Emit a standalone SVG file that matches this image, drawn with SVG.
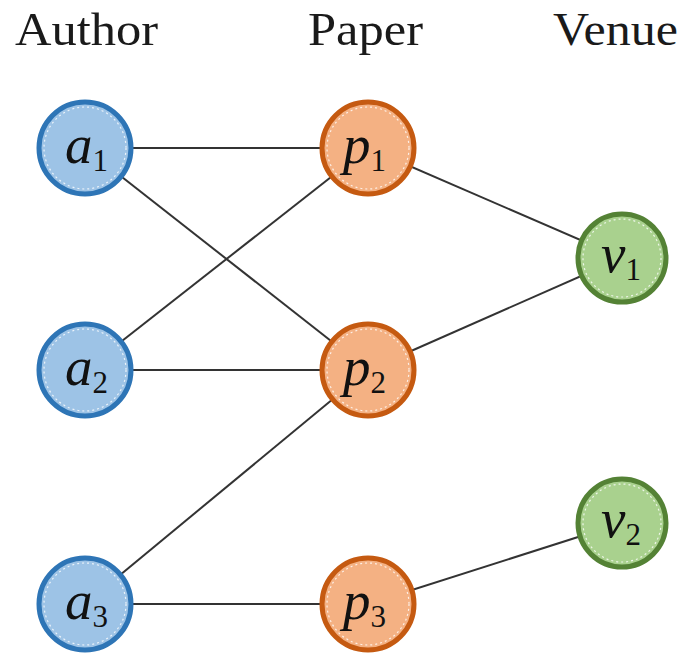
<svg xmlns="http://www.w3.org/2000/svg" width="685" height="655" viewBox="0 0 685 655">
  <style>
    .hdr { font-family: 'Liberation Serif', 'Times New Roman', 'DejaVu Serif', serif; font-size: 46px; fill: #1a1a1a; }
    .lbl { font-family: 'Liberation Serif', 'Times New Roman', 'DejaVu Serif', serif; font-size: 55px; font-style: italic; fill: #111; }
    .sub { font-size: 31px; font-style: normal; }
    .edge { stroke: #333; stroke-width: 2; fill: none; }
    .ring { fill: none; stroke: #fff; stroke-width: 1.2; stroke-dasharray: 2 3; opacity: 0.8; }
    .author { fill: #9DC3E6; stroke: #2E75B6; stroke-width: 5; }
    .paper { fill: #F4B183; stroke: #C55A11; stroke-width: 5; }
    .venue { fill: #A9D18E; stroke: #548235; stroke-width: 5; }
  </style>
  <rect width="685" height="655" fill="#fff"/>

  <!-- column headings -->
  <text class="hdr" x="15" y="45" textLength="143" lengthAdjust="spacingAndGlyphs">Author</text>
  <text class="hdr" x="308" y="45" textLength="115" lengthAdjust="spacingAndGlyphs">Paper</text>
  <text class="hdr" x="553" y="45" textLength="125" lengthAdjust="spacingAndGlyphs">Venue</text>

  <!-- edges between authors, papers and venues -->
  <g id="edges">
    <line class="edge" x1="85" y1="148" x2="368" y2="148"/>
    <line class="edge" x1="85" y1="148" x2="368" y2="370"/>
    <line class="edge" x1="85" y1="370" x2="368" y2="148"/>
    <line class="edge" x1="85" y1="370" x2="368" y2="370"/>
    <line class="edge" x1="85" y1="604" x2="368" y2="370"/>
    <line class="edge" x1="85" y1="604" x2="368" y2="604"/>
    <line class="edge" x1="368" y1="148" x2="622" y2="258"/>
    <line class="edge" x1="368" y1="370" x2="622" y2="258"/>
    <line class="edge" x1="368" y1="604" x2="622" y2="523"/>
  </g>

  <g id="a1">
    <circle class="author" cx="85" cy="148" r="46"/>
    <circle class="ring" cx="85" cy="148" r="41"/>
    <text class="lbl" x="65" y="163">a<tspan class="sub" dy="8">1</tspan></text>
  </g>
  <g id="a2">
    <circle class="author" cx="85" cy="370" r="46"/>
    <circle class="ring" cx="85" cy="370" r="41"/>
    <text class="lbl" x="65" y="385">a<tspan class="sub" dy="8">2</tspan></text>
  </g>
  <g id="a3">
    <circle class="author" cx="85" cy="604" r="46"/>
    <circle class="ring" cx="85" cy="604" r="41"/>
    <text class="lbl" x="65" y="619">a<tspan class="sub" dy="8">3</tspan></text>
  </g>

  <g id="p1">
    <circle class="paper" cx="368" cy="148" r="46"/>
    <circle class="ring" cx="368" cy="148" r="41"/>
    <text class="lbl" x="343" y="163">p<tspan class="sub" dy="8">1</tspan></text>
  </g>
  <g id="p2">
    <circle class="paper" cx="368" cy="370" r="46"/>
    <circle class="ring" cx="368" cy="370" r="41"/>
    <text class="lbl" x="343" y="385">p<tspan class="sub" dy="8">2</tspan></text>
  </g>
  <g id="p3">
    <circle class="paper" cx="368" cy="604" r="46"/>
    <circle class="ring" cx="368" cy="604" r="41"/>
    <text class="lbl" x="343" y="619">p<tspan class="sub" dy="8">3</tspan></text>
  </g>

  <g id="v1">
    <circle class="venue" cx="622" cy="258" r="44"/>
    <circle class="ring" cx="622" cy="258" r="39"/>
    <text class="lbl" x="601" y="272">v<tspan class="sub" dy="8">1</tspan></text>
  </g>
  <g id="v2">
    <circle class="venue" cx="622" cy="523" r="44"/>
    <circle class="ring" cx="622" cy="523" r="39"/>
    <text class="lbl" x="601" y="537">v<tspan class="sub" dy="8">2</tspan></text>
  </g>
</svg>
